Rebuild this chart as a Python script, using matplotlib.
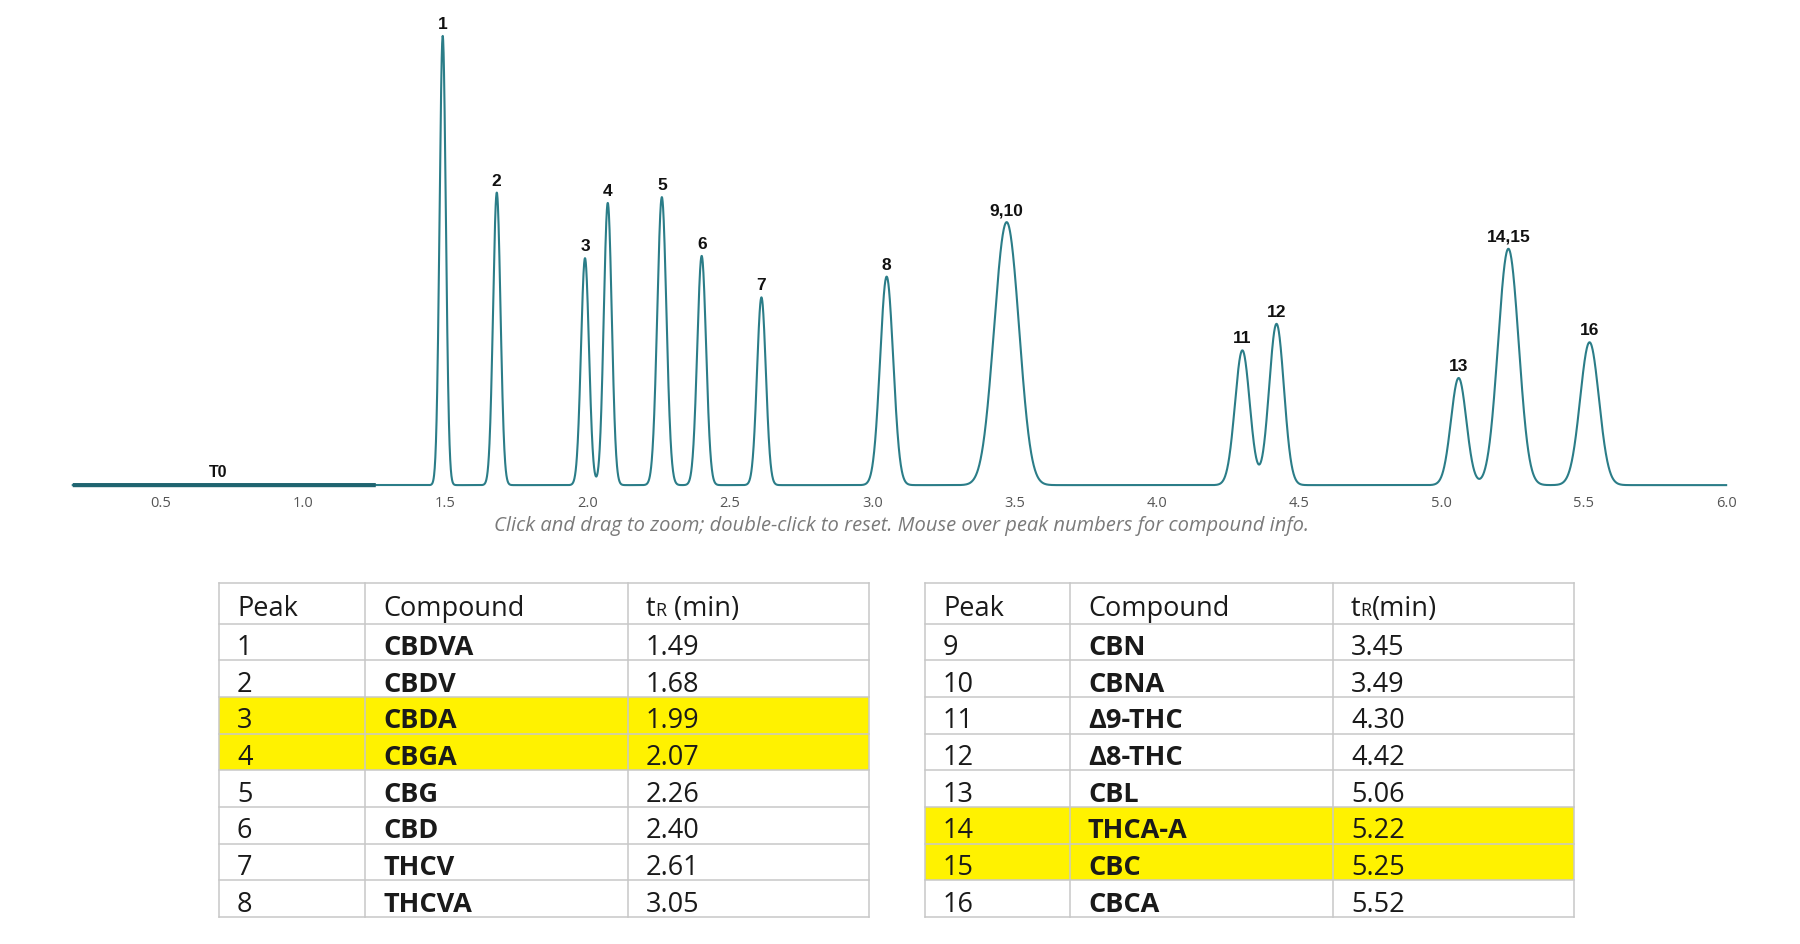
import numpy as np
import matplotlib
matplotlib.use('Agg')
import matplotlib.pyplot as plt
from matplotlib.patches import Rectangle

# peaks (retention time, height, width)
rt = [1.49, 1.68, 1.99, 2.07, 2.26, 2.40, 2.61, 3.05, 3.45, 3.49, 4.30, 4.42, 5.06, 5.22, 5.25, 5.52]
height = [390, 254, 197, 245, 250, 199, 163, 181, 124, 140, 117, 140, 93, 116, 113, 124]
sigma = [0.011, 0.013, 0.014, 0.014, 0.016, 0.0155, 0.0155, 0.023, 0.037, 0.037,
         0.026, 0.026, 0.027, 0.032, 0.032, 0.033]
peak_groups = [[0], [1], [2], [3], [4], [5], [6], [7], [8, 9], [10], [11], [12], [13, 14], [15]]
peak_labels = ['1', '2', '3', '4', '5', '6', '7', '8', '9,10', '11', '12', '13', '14,15', '16']

t_start = 0.19
t_end = 6.0
t0_end = 1.255

# tables
left_peak = ['1', '2', '3', '4', '5', '6', '7', '8']
left_comp = ['CBDVA', 'CBDV', 'CBDA', 'CBGA', 'CBG', 'CBD', 'THCV', 'THCVA']
left_tr = ['1.49', '1.68', '1.99', '2.07', '2.26', '2.40', '2.61', '3.05']
left_hl = [False, False, True, True, False, False, False, False]

right_peak = ['9', '10', '11', '12', '13', '14', '15', '16']
right_comp = ['CBN', 'CBNA', 'Δ9-THC', 'Δ8-THC', 'CBL', 'THCA-A', 'CBC', 'CBCA']
right_tr = ['3.45', '3.49', '4.30', '4.42', '5.06', '5.22', '5.25', '5.52']
right_hl = [False, False, False, False, False, True, True, False]

LINE = '#2b7d88'
LINE_DARK = '#1f6470'

fig = plt.figure(figsize=(18, 9.45), dpi=100)
ax = fig.add_axes([0.01039, 0.4795, 0.9802, 0.5205])

t = np.linspace(t_start, t_end, 8000)
sig = np.zeros_like(t)
for r, h, s in zip(rt, height, sigma):
    sig += h * np.exp(-0.5 * ((t - r) / s) ** 2)

ax.plot(t, sig, color=LINE, lw=1.5, solid_joinstyle='round')
m = t <= t0_end
ax.plot(t[m], sig[m], color=LINE_DARK, lw=3.0, solid_capstyle='butt')

for grp, lab in zip(peak_groups, peak_labels):
    lo = min(rt[i] for i in grp) - 0.03
    hi = max(rt[i] for i in grp) + 0.03
    w = (t >= lo) & (t <= hi)
    idx = np.where(w)[0][np.argmax(sig[w])]
    ax.annotate(lab, (t[idx], sig[idx]), xytext=(0, 3.5), textcoords='offset points',
                ha='center', va='bottom', family='Liberation Sans', weight='bold',
                fontsize=12.5, color='#111111')

ax.text(0.70, 5, 'T0', ha='center', va='bottom', family='Liberation Sans',
        weight='bold', fontsize=11.5, color='#111111')

ax.set_xlim(0, 6.2)
ax.set_ylim(-5, 422)
ticks = np.arange(0.5, 6.01, 0.5)
ax.set_xticks(ticks)
ax.set_xticklabels(['%.1f' % v for v in ticks], family='Open Sans')
ax.tick_params(axis='x', length=0, pad=3, labelsize=10.5, labelcolor='#555555')
ax.set_yticks([])
for sp in ax.spines.values():
    sp.set_visible(False)
ax.patch.set_visible(False)

fig.text(901 / 1800, 1 - 526 / 945,
         'Click and drag to zoom; double-click to reset. Mouse over peak numbers for compound info.',
         ha='center', va='center', family='Open Sans', style='italic', fontsize=14.5, color='#7a7a7a')

# table layer in pixel coordinates
tax = fig.add_axes([0, 0, 1, 1])
tax.set_xlim(0, 1800)
tax.set_ylim(945, 0)
tax.axis('off')
renderer = fig.canvas.get_renderer()

top = 584
head_h = 40.5
row_h = 36.7
GRID = '#c8c8c8'
TXT = '#1a1a1a'
FS = 19.5


def draw_table(xe, peaks, comps, trs, hls, space):
    n = len(peaks)
    edges = [top, top + head_h] + [top + head_h + row_h * (k + 1) for k in range(n)]
    for k in range(n):
        if hls[k]:
            tax.add_patch(Rectangle((xe[0], edges[k + 1]), xe[-1] - xe[0], row_h,
                                    facecolor='#fff200', edgecolor='none'))
    for y in edges:
        tax.plot([xe[0], xe[-1]], [y, y], color=GRID, lw=1.1)
    for x in xe:
        tax.plot([x, x], [edges[0], edges[-1]], color=GRID, lw=1.1)
    pad = 18
    yb = top + head_h / 2 + 12
    tax.text(xe[0] + pad, yb, 'Peak', family='Open Sans', fontsize=FS, color=TXT, va='baseline')
    tax.text(xe[1] + pad, yb, 'Compound', family='Open Sans', fontsize=FS, color=TXT, va='baseline')
    a = tax.text(xe[2] + pad, yb, 't', family='Open Sans', fontsize=FS, color=TXT, va='baseline')
    wa = a.get_window_extent(renderer).width
    b = tax.text(xe[2] + pad + wa, yb, 'R', family='Open Sans', fontsize=13, color=TXT, va='baseline')
    wb = b.get_window_extent(renderer).width
    tax.text(xe[2] + pad + wa + wb, yb, (' ' if space else '') + '(min)', family='Open Sans',
             fontsize=FS, color=TXT, va='baseline')
    for k in range(n):
        yb = edges[k + 1] + row_h / 2 + 12
        tax.text(xe[0] + pad, yb, peaks[k], family='Open Sans', fontsize=FS, color=TXT, va='baseline')
        tax.text(xe[1] + pad, yb, comps[k], family='Open Sans', weight='bold', fontsize=FS,
                 color=TXT, va='baseline')
        tax.text(xe[2] + pad, yb, trs[k], family='Open Sans', fontsize=FS, color=TXT, va='baseline')


draw_table([219, 365, 628, 869], left_peak, left_comp, left_tr, left_hl, True)
draw_table([925, 1070, 1333, 1574], right_peak, right_comp, right_tr, right_hl, False)

fig.savefig('out.png', dpi=100)
